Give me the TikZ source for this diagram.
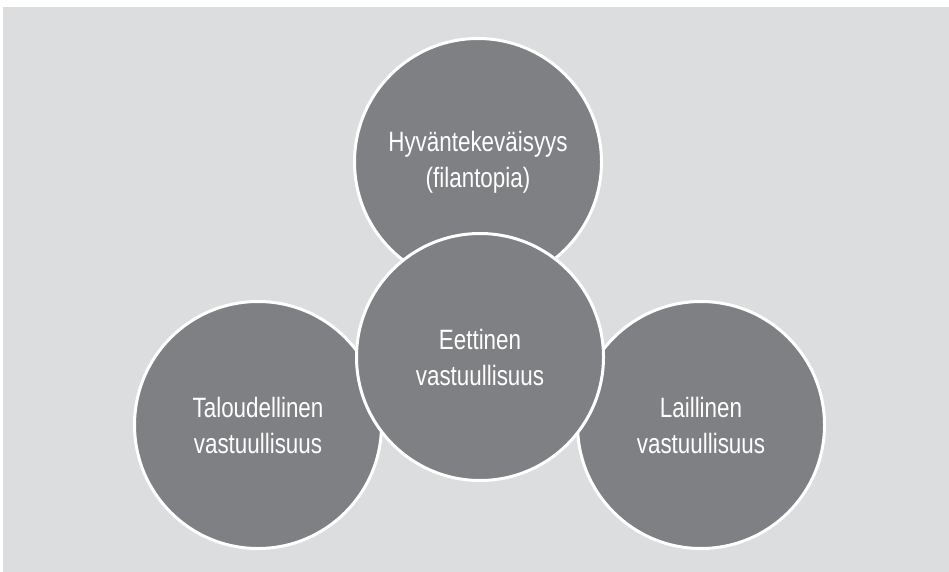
\documentclass[tikz,border=0pt]{standalone}
\usepackage{fontspec}
\setmainfont{Liberation Sans}[FakeStretch=0.8]
\definecolor{bggray}{RGB}{220,221,222}
\definecolor{ballgray}{RGB}{127,128,131}

\begin{document}
\begin{tikzpicture}[x=1pt,y=-1pt,
		area/.style={circle,draw=white,line width=3pt,fill=ballgray,text=white,
			minimum size=247pt,inner sep=0pt,align=center,
			font=\fontsize{28}{36}\selectfont}]
		\useasboundingbox (0,0) rectangle (949,572);
		\fill [bggray] (3,7) rectangle (949,572);
		% outer circles first, the ethical one lies on top
		\node [area] (hyvantekevaisyys) at (478,162) {Hyväntekeväisyys\\(filantopia)};
		\node [area] (taloudellinen) at (258,425) {Taloudellinen\\vastuullisuus};
		\node [area] (laillinen) at (701,425) {Laillinen\\vastuullisuus};
		\node [area] (eettinen) at (480,357) {Eettinen\\vastuullisuus};
	\end{tikzpicture}
\end{document}
